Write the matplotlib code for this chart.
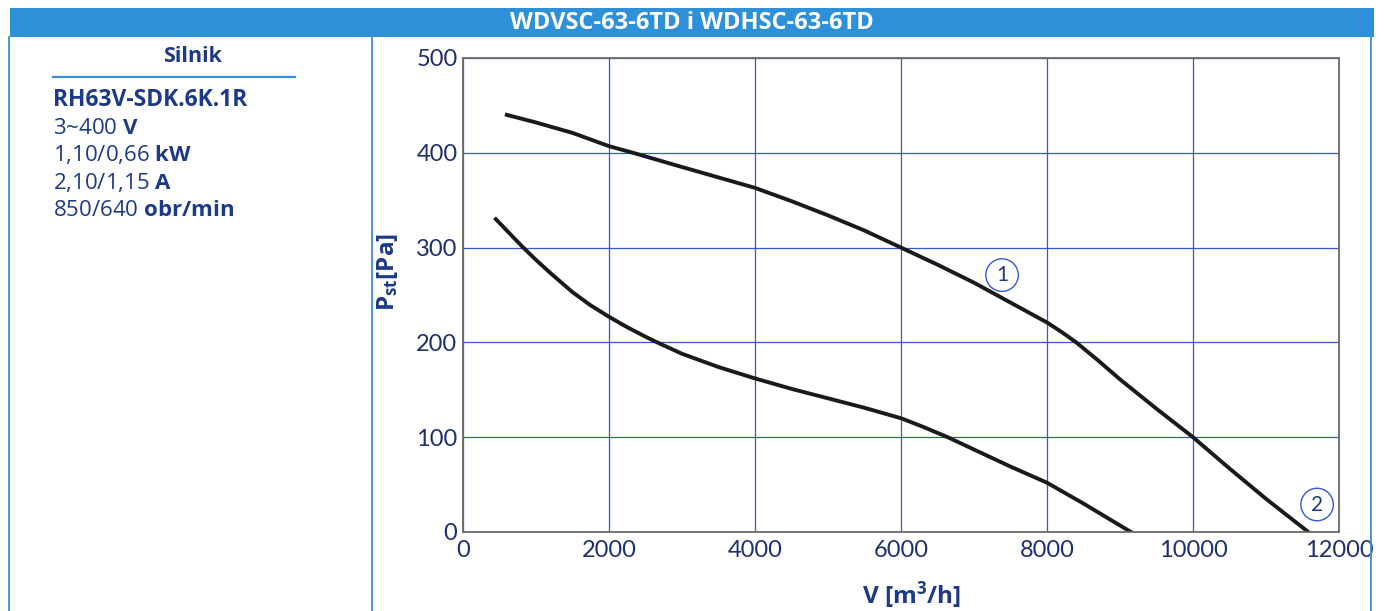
import matplotlib
matplotlib.use("Agg")
import matplotlib.pyplot as plt
from matplotlib.patches import Rectangle
from matplotlib.lines import Line2D

# ---- data ----
title = "WDVSC-63-6TD i WDHSC-63-6TD"
motor_header = "Silnik"
motor_model = "RH63V-SDK.6K.1R"
motor_lines = [
    r"3~400 $\mathbf{V}$",
    r"1,10/0,66 $\mathbf{kW}$",
    r"2,10/1,15 $\mathbf{A}$",
    r"850/640 $\mathbf{obr/min}$",
]
curve1_v = [600, 1000, 1500, 2000, 2330, 3000, 3500, 4000, 4500, 5000, 5500, 6000, 6500,
            7000, 7500, 8000, 8200, 8400, 8700, 9000, 9500, 10000, 10500, 11000, 11580]
curve1_p = [440, 432, 421, 407, 400, 385, 374, 363, 349, 334, 318, 300, 282,
            263, 242, 221, 211, 200, 181, 161, 130, 100, 67, 35, 0]
curve2_v = [450, 600, 800, 1000, 1200, 1500, 1750, 2000, 2250, 2500, 2660, 3000, 3500,
            4000, 4500, 5000, 5500, 6000, 6300, 6640, 7000, 7500, 8000, 8500, 9150]
curve2_p = [330, 318, 302, 287, 273, 253, 239, 227, 216, 206, 200, 188, 174,
            162, 151, 141, 131, 120, 111, 100, 87, 69, 52, 30, 0]
label1_pos = (7384, 271)
label2_pos = (11700, 29)
x_ticks = [0, 2000, 4000, 6000, 8000, 10000, 12000]
y_ticks = [0, 100, 200, 300, 400, 500]
x_label = r"V [m$^{\mathbf{3}}$/h]"
y_label = r"P$_{\mathbf{st}}$[Pa]"

# ---- style ----
W, H = 1385, 611
NAVY = "#1c3a88"
TICKC = "#1e2f6e"
BAND = "#2d90d8"
BORDER = "#3a8fd6"
GRID = "#3358d4"

plt.rcParams["mathtext.fontset"] = "custom"
plt.rcParams["mathtext.rm"] = "Open Sans"
plt.rcParams["mathtext.bf"] = "Open Sans:bold"
plt.rcParams["mathtext.default"] = "regular"

fig = plt.figure(figsize=(W / 100, H / 100), dpi=100)

def fx(x):
    return x / W

def fy(y):
    return 1 - y / H

# header band
fig.patches.append(Rectangle((fx(10), fy(37)), fx(1374) - fx(10), fy(8) - fy(37),
                             transform=fig.transFigure, facecolor=BAND, edgecolor="none"))
fig.text(fx(692), fy(23), title, color="white", fontsize=17, fontweight="bold",
         family="Open Sans", ha="center", va="center")

# borders
for xb in (9, 372, 1371):
    fig.add_artist(Line2D([fx(xb), fx(xb)], [fy(37), fy(611)], transform=fig.transFigure,
                          color=BORDER, lw=1.3))

# left panel
fig.text(fx(192), fy(57), motor_header, color=NAVY, fontsize=15.5, fontweight="bold",
         family="Open Sans", ha="center", va="center")
fig.add_artist(Line2D([fx(53), fx(295)], [fy(77), fy(77)], transform=fig.transFigure,
                      color=BORDER, lw=1.6))
fig.text(fx(53), fy(106), motor_model, color=NAVY, fontsize=16.5, fontweight="bold",
         family="Open Sans", ha="left", va="baseline")
baselines = [134, 161, 189, 216]
for txt, yb in zip(motor_lines, baselines):
    fig.text(fx(53), fy(yb), txt, color=NAVY, fontsize=16, family="Open Sans",
             ha="left", va="baseline")

# axes
ax = fig.add_axes([fx(463), fy(532), (1339 - 463) / W, (532 - 58) / H])
ax.plot(curve1_v, curve1_p, color="#1a1a1a", lw=2.8, solid_joinstyle="round")
ax.plot(curve2_v, curve2_p, color="#1a1a1a", lw=2.8, solid_joinstyle="round")
ax.set_xlim(0, 12000)
ax.set_ylim(0, 500)
ax.set_xticks(x_ticks)
ax.set_yticks(y_ticks)
ax.set_xticklabels([str(v) for v in x_ticks])
ax.set_yticklabels([str(v) for v in y_ticks])
ax.grid(True, color=GRID, lw=0.9)
ax.set_axisbelow(True)
for s in ax.spines.values():
    s.set_color("#6a6a6a")
    s.set_linewidth(1.3)
ax.tick_params(length=0, labelsize=17, labelcolor=TICKC)
ax.tick_params(axis="x", pad=6)
ax.tick_params(axis="y", pad=4)
for lab in ax.get_xticklabels() + ax.get_yticklabels():
    lab.set_family("Lato")

for txt, pos in (("1", label1_pos), ("2", label2_pos)):
    ax.text(pos[0], pos[1], txt, ha="center", va="center", fontsize=15, color=NAVY,
            family="Lato",
            bbox=dict(boxstyle="circle,pad=0.3", facecolor="white", edgecolor=GRID, lw=1.0))

fig.text(fx(911), fy(595), x_label, color=NAVY, fontsize=17.5, fontweight="bold",
         family="Open Sans", ha="center", va="center")
fig.text(fx(388), fy(272), y_label, color=NAVY, fontsize=17.5, fontweight="bold",
         family="Open Sans", ha="center", va="center", rotation=90)

fig.savefig("out.png", dpi=100)
